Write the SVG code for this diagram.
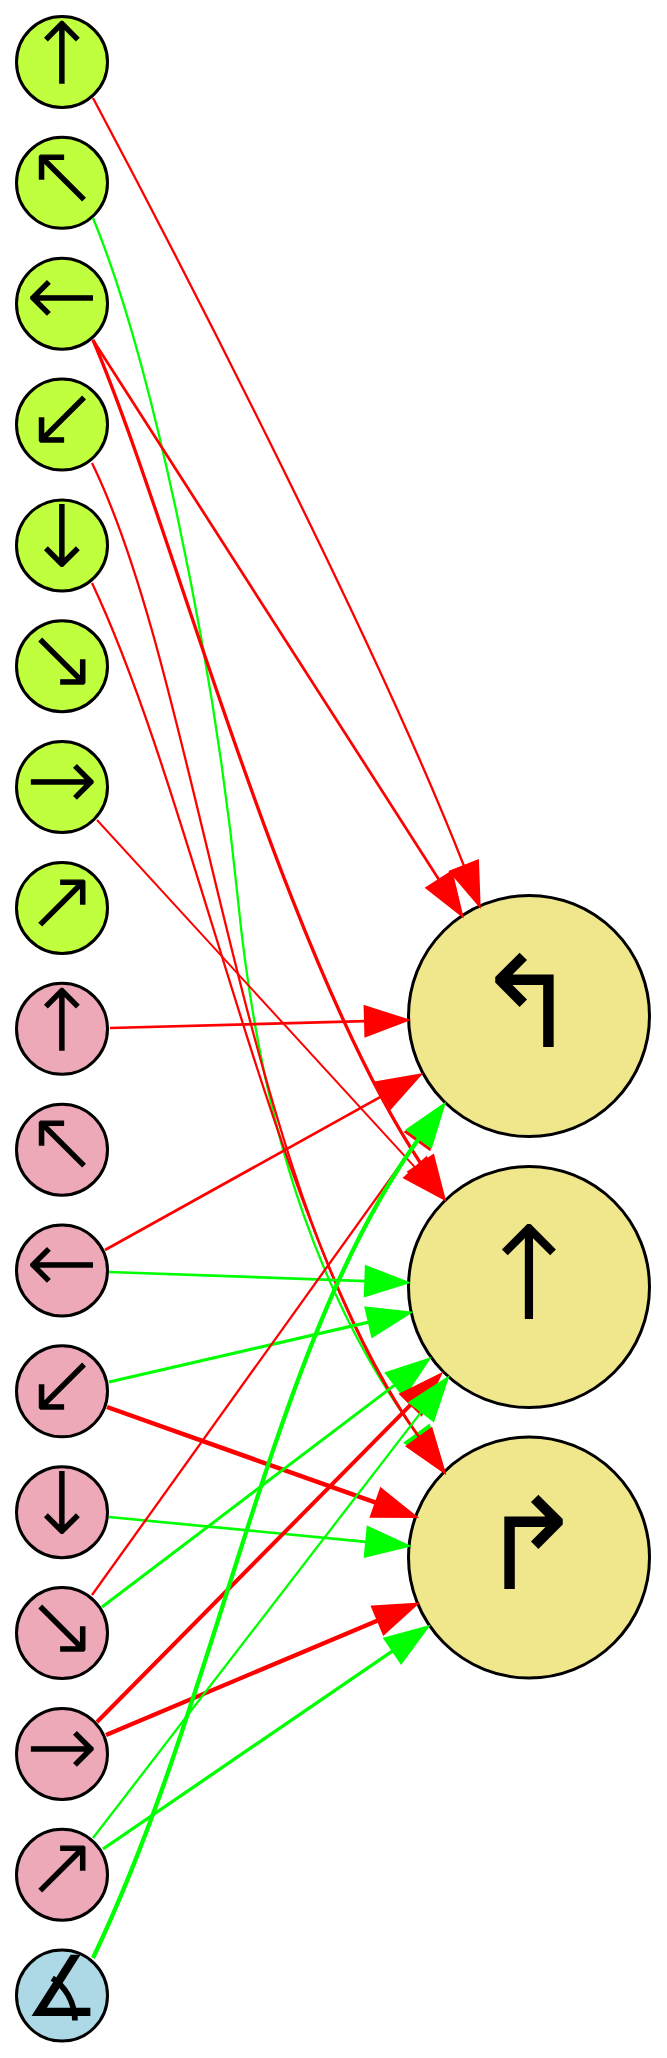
<svg xmlns="http://www.w3.org/2000/svg" width="667" height="2058" viewBox="0 0 667 2058">
<style>
.n circle{stroke:#000;stroke-width:3}
.lg{fill:#C0FF3E}.pk{fill:#EEA9B8}.lb{fill:#ADD8E6}.kh{fill:#F0E68C}
text{font-family:"DejaVu Sans",sans-serif;font-weight:200;text-anchor:middle;fill:#000;stroke:#000;stroke-linejoin:miter}
.s{font-size:84px;stroke-width:1.4px}.b{font-size:127px;stroke-width:2px}
.bk{font-weight:400;stroke:none}
#edges path{fill:none}
.r{stroke:#f00;marker-end:url(#ar)}
.g{stroke:#0f0;marker-end:url(#ag)}
</style>
<defs>
<marker id="ar" markerUnits="userSpaceOnUse" markerWidth="50" markerHeight="40" viewBox="-3 -20 50 40" refX="0" refY="0" orient="auto"><path d="M0,-15 L43,0 L0,15 Z" fill="#f00" stroke="#f00" stroke-width="2"/></marker>
<marker id="ag" markerUnits="userSpaceOnUse" markerWidth="50" markerHeight="40" viewBox="-3 -20 50 40" refX="0" refY="0" orient="auto"><path d="M0,-15 L43,0 L0,15 Z" fill="#0f0" stroke="#0f0" stroke-width="2"/></marker>
</defs>
<rect width="667" height="2058" fill="#fff"/>
<g id="L0" class="n"><circle class="lg" cx="62" cy="62" r="45.5"/><text class="s" x="62" y="82.7">↑</text></g>
<g id="L1" class="n"><circle class="lg" cx="62" cy="182.85" r="45.5"/><text class="s" x="62" y="203.5">↖</text></g>
<g id="L2" class="n"><circle class="lg" cx="62" cy="303.7" r="45.5"/><text class="s" x="62" y="324.4">←</text></g>
<g id="L3" class="n"><circle class="lg" cx="62" cy="424.55" r="45.5"/><text class="s" x="62" y="445.2">↙</text></g>
<g id="L4" class="n"><circle class="lg" cx="62" cy="545.4" r="45.5"/><text class="s" x="62" y="566.1">↓</text></g>
<g id="L5" class="n"><circle class="lg" cx="62" cy="666.25" r="45.5"/><text class="s" x="62" y="686.9">↘</text></g>
<g id="L6" class="n"><circle class="lg" cx="62" cy="787.1" r="45.5"/><text class="s" x="62" y="807.8">→</text></g>
<g id="L7" class="n"><circle class="lg" cx="62" cy="907.95" r="45.5"/><text class="s" x="62" y="928.6">↗</text></g>
<g id="L8" class="n"><circle class="pk" cx="62" cy="1028.8" r="45.5"/><text class="s" x="62" y="1049.5">↑</text></g>
<g id="L9" class="n"><circle class="pk" cx="62" cy="1149.65" r="45.5"/><text class="s" x="62" y="1170.3">↖</text></g>
<g id="L10" class="n"><circle class="pk" cx="62" cy="1270.5" r="45.5"/><text class="s" x="62" y="1291.2">←</text></g>
<g id="L11" class="n"><circle class="pk" cx="62" cy="1391.35" r="45.5"/><text class="s" x="62" y="1412">↙</text></g>
<g id="L12" class="n"><circle class="pk" cx="62" cy="1512.2" r="45.5"/><text class="s" x="62" y="1532.9">↓</text></g>
<g id="L13" class="n"><circle class="pk" cx="62" cy="1633.05" r="45.5"/><text class="s" x="62" y="1653.7">↘</text></g>
<g id="L14" class="n"><circle class="pk" cx="62" cy="1753.9" r="45.5"/><text class="s" x="62" y="1774.6">→</text></g>
<g id="L15" class="n"><circle class="pk" cx="62" cy="1874.75" r="45.5"/><text class="s" x="62" y="1895.4">↗</text></g>
<g id="L16" class="n"><circle class="lb" cx="62" cy="1995.6" r="45.5"/><text class="s bk" x="62" y="2016.3">∡</text></g>
<g id="B0" class="n"><circle class="kh" cx="529" cy="1016" r="120.5"/><text class="b bk" x="527" y="1047">↰</text></g>
<g id="B1" class="n"><circle class="kh" cx="529" cy="1287" r="120.5"/><text class="b" x="529" y="1318">↑</text></g>
<g id="B2" class="n"><circle class="kh" cx="529" cy="1557.5" r="120.5"/><text class="b bk" x="531" y="1588.5">↱</text></g>
<g id="edges">
<path class="r" style="stroke-width:2.3" d="M93,98 C163.5,230.5 373,633 464,866"/>
<path class="g" style="stroke-width:2.3" d="M93,218 C150,356 213,650 238,900 C263,1150 328.5,1312.5 417,1434"/>
<path class="r" style="stroke-width:3.3" d="M93,340 C171.8,523.8 283,956 420.8,1163.5"/>
<path class="r" style="stroke-width:2.3" d="M92,463 C201.5,687.8 242,1194 419,1437.4"/>
<path class="r" style="stroke-width:2.3" d="M92,583 C198.8,809 274.5,1235 419.5,1437.4"/>
<path class="r" style="stroke-width:2.7" d="M93,340 L439,879.7"/>
<path class="r" style="stroke-width:2" d="M97,820 L415.3,1167.6"/>
<path class="r" style="stroke-width:2.7" d="M110,1028 L365,1021.2"/>
<path class="r" style="stroke-width:2.7" d="M105,1250 L383.2,1095.4"/>
<path class="g" style="stroke-width:2.7" d="M109,1272 L365.3,1281.1"/>
<path class="g" style="stroke-width:3.3" d="M109,1382 L368.8,1322.2"/>
<path class="r" style="stroke-width:4.5" d="M107,1407 L375.8,1502.6"/>
<path class="g" style="stroke-width:2.7" d="M109,1517 L366.2,1541.8"/>
<path class="r" style="stroke-width:2.3" d="M92,1595 L417.4,1140.8"/>
<path class="g" style="stroke-width:3" d="M102,1607 L394.9,1384.9"/>
<path class="r" style="stroke-width:4" d="M97,1722 L410.8,1404.6"/>
<path class="r" style="stroke-width:4.3" d="M106,1735 L377.8,1620.4"/>
<path class="g" style="stroke-width:2.3" d="M93,1838 L421.5,1411.6"/>
<path class="g" style="stroke-width:3.3" d="M103,1849 L392.7,1650.8"/>
<path class="g" style="stroke-width:4.3" d="M93,1958 C222,1688 271.5,1341 419,1138.6"/>
</g>
</svg>
